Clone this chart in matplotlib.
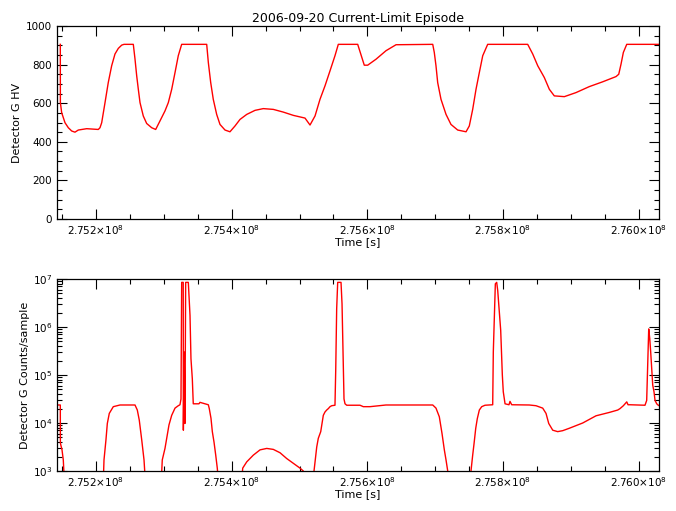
import numpy as np
import matplotlib
matplotlib.use("Agg")
import matplotlib.pyplot as plt
import matplotlib.ticker as mticker

# Time axis values in kiloseconds (converted to seconds below)
hv_time_ks = [
    275147.4, 275147.5, 275149.4, 275154.3, 275159.2, 275164.2, 275169.0, 275173.9,
    275186.3, 275203.4, 275205.9, 275208.4, 275213.3, 275218.1, 275223.1, 275228.0,
    275232.9, 275237.9, 275241.3, 275255.0, 275257.5, 275260.0, 275262.4, 275264.9,
    275269.7, 275274.7, 275282.1, 275288.0, 275294.3, 275301.7, 275306.6, 275311.6,
    275316.5, 275321.3, 275326.3, 275363.2, 275365.6, 275369.1, 275372.9, 275377.9,
    275382.8, 275390.2, 275397.5, 275404.9, 275412.3, 275422.2, 275434.4, 275446.6,
    275461.4, 275476.1, 275490.9, 275508.1, 275515.5, 275522.9, 275530.2, 275537.6,
    275545.0, 275552.3, 275557.2, 275585.8, 275595.5, 275600.5, 275612.8, 275627.5,
    275642.3, 275696.4, 275698.7, 275701.2, 275703.7, 275708.6, 275716.0, 275723.3,
    275733.2, 275745.5, 275750.3, 275755.3, 275760.2, 275765.1, 275770.1, 275777.4,
    275836.4, 275843.8, 275851.2, 275860.9, 275868.3, 275875.6, 275890.4, 275907.6,
    275927.2, 275947.0, 275966.6, 275970.6, 275974.0, 275977.4, 275982.4, 276030.4,
]
hv_volts = [
    905, 603, 551, 499, 473, 456, 450, 461,
    468, 464, 473, 499, 603, 707, 794, 855,
    884, 901, 905, 905, 829, 742, 672, 603,
    534, 495, 473, 464, 508, 560, 603, 672,
    759, 846, 905, 905, 811, 707, 620, 542,
    490, 461, 452, 482, 516, 542, 563, 572,
    568, 554, 537, 523, 487, 534, 620, 690,
    768, 846, 905, 905, 797, 797, 828, 872,
    903, 905, 863, 794, 707, 620, 542, 490,
    461, 452, 482, 568, 672, 759, 846, 905,
    905, 855, 794, 733, 672, 638, 634, 655,
    686, 711, 738, 750, 803, 863, 905, 905,
]

counts_time_ks = [
    275143.2, 275147.4, 275147.5, 275149.9, 275151.8, 275153.3,
    275210.8, 275211.8, 275214.7, 275216.7, 275219.6, 275225.5, 275235.4, 275257.5,
    275260.9, 275263.8, 275267.4, 275270.8, 275272.7,
    275296.3, 275297.7, 275301.7, 275304.2, 275307.6, 275311.6, 275316.5, 275321.3,
    275323.8, 275325.3, 275326.3, 275328.6, 275328.8, 275330.0, 275331.1, 275332.2,
    275336.1, 275337.1, 275338.6, 275340.0, 275342.0, 275343.4, 275351.8, 275353.3,
    275365.6, 275367.0, 275369.5, 275371.5, 275374.0, 275376.5, 275378.8, 275380.3,
    275414.8, 275416.3, 275422.2, 275431.9, 275441.8, 275451.7, 275461.4, 275471.3,
    275481.1, 275490.9, 275500.7, 275505.6, 275507.4,
    275520.3, 275521.4, 275522.9, 275525.4, 275527.7, 275531.3, 275533.6, 275535.1,
    275537.6, 275540.1, 275542.5, 275545.0, 275547.5, 275552.3, 275553.4, 275554.8,
    275556.3, 275561.2, 275562.7, 275564.6, 275565.6, 275567.1, 275569.6, 275589.2,
    275594.1, 275603.9, 275627.5, 275696.4, 275701.2, 275706.1, 275710.1, 275713.5,
    275716.0, 275718.5, 275719.7,
    275752.1, 275752.8, 275755.3, 275757.3, 275759.8, 275762.1, 275765.1, 275768.6,
    275773.5, 275784.8, 275785.7, 275787.2, 275788.7, 275790.7, 275792.2, 275794.1,
    275796.6, 275799.0, 275800.4, 275803.0, 275808.8, 275810.3, 275812.8, 275838.8,
    275848.6, 275858.5, 275863.4, 275867.4, 275873.3, 275880.6, 275888.0, 275897.7,
    275917.5, 275937.1, 275956.7, 275969.1, 275972.5, 275977.4, 275982.4, 275984.3,
    275987.2, 276009.3, 276011.8, 276013.3, 276014.8, 276016.3, 276017.7, 276019.2,
    276020.7, 276022.6, 276024.1, 276026.6, 276028.9, 276030.4,
]
counts_log10 = [
    4.375, 4.375, 3.58, 3.44, 3.23, 2.8,
    2.8, 3.23, 3.65, 3.99, 4.2, 4.34, 4.375, 4.375,
    4.27, 4.06, 3.65, 3.23, 2.8,
    2.8, 3.23, 3.47, 3.68, 3.96, 4.16, 4.31, 4.36,
    4.38, 4.5, 6.93, 6.93, 3.85, 5.48, 3.99, 6.93,
    6.93, 6.65, 6.24, 5.34, 4.92, 4.40, 4.40, 4.43,
    4.38, 4.30, 4.10, 3.82, 3.60, 3.33, 3.06, 2.8,
    2.8, 3.06, 3.19, 3.33, 3.44, 3.47, 3.45, 3.38,
    3.26, 3.16, 3.06, 3.0, 2.8,
    2.8, 3.0, 3.19, 3.5, 3.68, 3.82, 4.02, 4.16,
    4.23, 4.27, 4.30, 4.34, 4.36, 4.37, 5.1, 6.38,
    6.93, 6.93, 6.48, 5.24, 4.5, 4.40, 4.37, 4.37,
    4.34, 4.34, 4.375, 4.375, 4.31, 4.13, 3.78, 3.44,
    3.23, 3.0, 2.8,
    2.8, 3.0, 3.33, 3.57, 3.89, 4.09, 4.27, 4.34,
    4.37, 4.38, 5.48, 6.17, 6.9, 6.93, 6.76, 6.41,
    5.93, 5.0, 4.65, 4.40, 4.38, 4.45, 4.38, 4.375,
    4.36, 4.31, 4.2, 3.99, 3.85, 3.82, 3.84, 3.89,
    4.0, 4.15, 4.22, 4.27, 4.30, 4.36, 4.44, 4.38,
    4.38, 4.37, 4.47, 5.24, 5.96, 5.76, 5.48, 5.13,
    4.79, 4.65, 4.47, 4.40, 4.37, 4.36,
]

title = "2006-09-20 Current-Limit Episode"
x_label = "Time [s]"
hv_label = "Detector G HV"
counts_label = "Detector G Counts/sample"
x_limits = (275142.5e3, 276030.4e3)

plt.rcParams['font.family'] = ['DejaVu Sans']
plt.rcParams['mathtext.fontset'] = 'dejavusans'


def time_fmt(v, pos):
    return r'$%.3f{\times}10^{8}$' % (v / 1e8)


def style_axis(ax):
    ax.set_xlim(*x_limits)
    ax.xaxis.set_major_locator(mticker.MultipleLocator(2e5))
    ax.xaxis.set_minor_locator(mticker.MultipleLocator(5e4))
    ax.xaxis.set_major_formatter(mticker.FuncFormatter(time_fmt))
    ax.tick_params(which='both', direction='in', top=True, right=True,
                   labelsize=7.5, width=0.8)
    ax.tick_params(which='major', length=7)
    ax.tick_params(which='minor', length=3.5)
    ax.tick_params(axis='x', pad=3)
    for s in ax.spines.values():
        s.set_linewidth(0.9)
    ax.set_xlabel(x_label, fontsize=8, labelpad=0)


fig = plt.figure(figsize=(6.76, 5.11), dpi=100)
ax1 = fig.add_axes([0.0843, 0.5714, 0.891, 0.3777])
ax2 = fig.add_axes([0.0843, 0.0783, 0.891, 0.3757])

t_hv = np.array(hv_time_ks) * 1e3
ax1.plot(t_hv, hv_volts, color='#ff0000', lw=1.0)
style_axis(ax1)
ax1.set_ylim(0, 1000)
ax1.yaxis.set_major_locator(mticker.MultipleLocator(200))
ax1.yaxis.set_minor_locator(mticker.MultipleLocator(50))
ax1.set_ylabel(hv_label, fontsize=8, labelpad=3)
ax1.set_title(title, fontsize=9, pad=3)

t_c = np.array(counts_time_ks) * 1e3
ax2.plot(t_c, 10 ** np.array(counts_log10), color='#ff0000', lw=1.0)
style_axis(ax2)
ax2.set_yscale('log')
ax2.set_ylim(1e3, 1e7)
ax2.yaxis.set_major_locator(mticker.LogLocator(base=10))
ax2.yaxis.set_minor_locator(mticker.LogLocator(base=10, subs=np.arange(2, 10)))
ax2.yaxis.set_minor_formatter(mticker.NullFormatter())
ax2.set_ylabel(counts_label, fontsize=8, labelpad=2)

fig.savefig("out.png", dpi=100)
